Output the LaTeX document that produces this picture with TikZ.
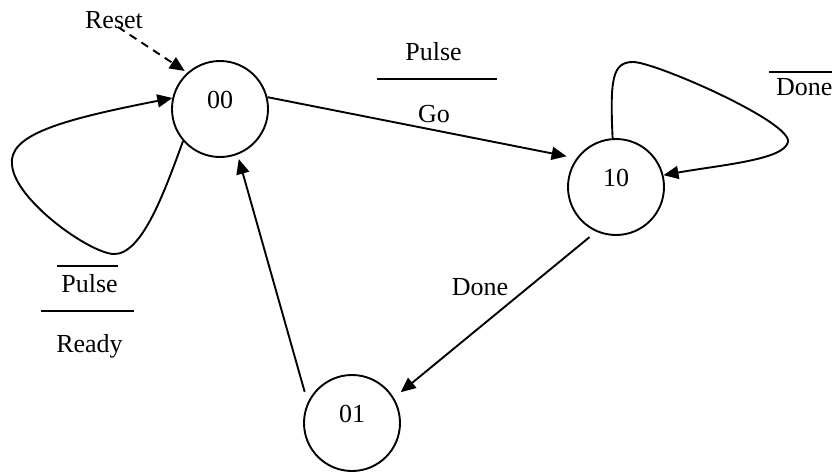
\documentclass[tikz,border=0pt]{standalone}
\usepackage{fontspec}
\setmainfont{Liberation Serif}
\usetikzlibrary{arrows.meta}
\begin{document}
\begin{tikzpicture}[x=1pt,y=-1pt,
  lw/.style={line width=1.9pt},
  state/.style={draw,circle,lw,minimum size=96pt,inner sep=0pt,
    font=\fontsize{26}{30}\selectfont,text depth=18pt},
  lbl/.style={inner sep=0pt,font=\fontsize{26}{30}\selectfont,anchor=base},
  arr/.style={lw,-{Triangle[length=15pt,width=13pt]}},
  bar/.style={line width=1.6pt}
]
\useasboundingbox (0,0) rectangle (832,471);
% states
\node[state] (s00) at (220,109) {00};
\node[state] (s10) at (616,187) {10};
\node[state] (s01) at (352,423) {01};
% labels
\node[lbl] (reset) at (114,28) {Reset};
\node[lbl] (pulse1) at (433.5,60) {Pulse};
\node[lbl] (go) at (434,122) {Go};
\node[lbl,anchor=base west] (done1) at (776,95) {Done};
\node[lbl] (pulse2) at (89.5,292) {Pulse};
\node[lbl] (ready) at (89.5,352) {Ready};
\node[lbl] (done2) at (480,295) {Done};
% bars and overlines
\draw[bar] (377,79) -- (497,79);
\draw[bar] (41,311) -- (134,311);
\draw[bar] (769,72) -- (832,72);
\draw[bar] (57,266) -- (118,266);
% reset arrow
\coordinate (rs) at (118,27);
\draw[arr,dash pattern=on 8pt off 6pt,shorten >=3pt] (rs) -- (s00.132.6);
% transitions
\draw[arr,shorten >=10pt] (s00.14) -- (s10.144.5);
\draw[arr,shorten <=8.5pt,shorten >=8.7pt] (s10.246.5) -- (s01.31.7);
\draw[arr,shorten <=11pt,shorten >=4.5pt] (s01.155) -- (s00.291.7);
% self loops
\draw[arr] (s00.221) .. controls (165,190) and (142,256) .. (113,254)
  .. controls (88,252) and (15,200) .. (12,165)
  .. controls (8,135) and (60,120) .. (s00.167);
\draw[arr] (s10.94) .. controls (610,80) and (612,62) .. (633,62)
  .. controls (655,62) and (792,122) .. (788,142)
  .. controls (784,160) and (720,165) .. (s10.14);
\end{tikzpicture}
\end{document}
